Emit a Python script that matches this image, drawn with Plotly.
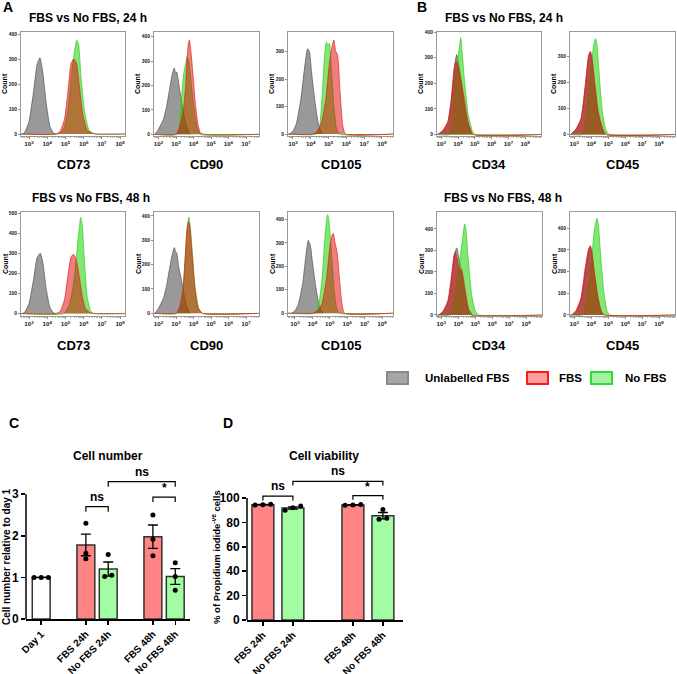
import plotly.graph_objects as go

W, H = 677, 674
FONT = "Liberation Sans, Arial, Helvetica, sans-serif"

# ---------------- Flow cytometry histograms: points are (log10 fluorescence, count) ----------------
CD73_24H_UNLAB = [(2.6,0),(2.75,5),(3.0,50),(3.25,170),(3.45,280),(3.6,305),(3.75,250),(3.95,120),(4.15,30),(4.35,3),(4.5,0)]
CD73_24H_FBS = [(4.45,0),(4.7,10),(4.95,60),(5.15,180),(5.3,280),(5.45,300),(5.6,285),(5.75,200),(5.95,80),(6.2,15),(6.5,2),(6.8,0)]
CD73_24H_NOFBS = [(4.6,0),(4.9,20),(5.15,100),(5.35,250),(5.5,330),(5.62,375),(5.72,360),(5.85,230),(6.05,90),(6.3,15),(6.6,0)]

CD90_24H_UNLAB = [(1.8,0),(1.95,15),(2.1,35),(2.27,60),(2.45,110),(2.62,180),(2.78,245),(2.9,272),(2.97,250),(3.04,255),(3.15,210),(3.3,140),(3.45,80),(3.6,35),(3.8,0)]
CD90_24H_FBS = [(3.0,0),(3.2,30),(3.42,100),(3.55,200),(3.62,300),(3.7,370),(3.76,386),(3.82,360),(3.95,260),(4.1,130),(4.25,40),(4.4,5),(4.6,0)]
CD90_24H_NOFBS = [(3.05,0),(3.2,60),(3.35,180),(3.44,250),(3.55,290),(3.63,318),(3.72,300),(3.85,220),(4.0,120),(4.2,30),(4.4,0)]

CD105_24H_UNLAB = [(2.8,0),(3.0,10),(3.2,40),(3.45,130),(3.65,240),(3.82,310),(3.92,300),(4.05,220),(4.25,110),(4.45,30),(4.65,0)]
CD105_24H_FBS = [(4.1,0),(4.35,10),(4.6,40),(4.85,130),(5.05,260),(5.2,320),(5.3,342),(5.4,300),(5.5,290),(5.65,150),(5.8,30),(5.95,0)]
CD105_24H_NOFBS = [(4.3,0),(4.5,30),(4.65,150),(4.78,290),(4.88,335),(4.95,320),(5.05,330),(5.15,240),(5.3,100),(5.45,20),(5.6,0)]

CD34_24H_UNLAB = [(2.8,0),(3.1,15),(3.4,50),(3.6,130),(3.8,270),(3.92,312),(4.0,290),(4.15,230),(4.35,120),(4.6,35),(4.85,0)]
CD34_24H_FBS = [(2.8,0),(3.1,15),(3.4,50),(3.6,140),(3.78,260),(3.9,286),(4.0,270),(4.15,220),(4.35,150),(4.6,50),(4.9,0)]
CD34_24H_NOFBS = [(3.5,0),(3.7,100),(3.85,230),(4.0,300),(4.1,350),(4.16,378),(4.25,320),(4.4,200),(4.6,80),(4.85,15),(5.0,0)]

CD45_24H_UNLAB = [(2.8,0),(3.1,20),(3.4,60),(3.65,180),(3.85,300),(3.95,318),(4.05,290),(4.2,200),(4.4,90),(4.6,25),(4.85,0)]
CD45_24H_FBS = [(2.8,0),(3.1,20),(3.4,60),(3.65,190),(3.85,305),(3.95,319),(4.05,290),(4.2,200),(4.4,90),(4.6,40),(4.85,0)]
CD45_24H_NOFBS = [(3.5,0),(3.7,80),(3.9,200),(4.05,290),(4.15,345),(4.25,368),(4.32,355),(4.45,250),(4.65,90),(4.85,20),(5.05,0)]

CD73_48H_UNLAB = [(2.6,0),(2.75,5),(3.0,50),(3.25,170),(3.45,280),(3.62,300),(3.75,260),(3.95,120),(4.15,30),(4.35,3),(4.5,0)]
CD73_48H_FBS = [(4.45,0),(4.7,10),(4.95,70),(5.15,200),(5.3,280),(5.43,295),(5.55,280),(5.7,220),(5.9,100),(6.1,25),(6.4,2),(6.7,0)]
CD73_48H_NOFBS = [(4.9,0),(5.2,40),(5.45,150),(5.62,300),(5.75,420),(5.84,480),(5.92,440),(6.05,250),(6.2,80),(6.4,10),(6.6,0)]

CD90_48H_UNLAB = [(1.8,0),(1.95,15),(2.1,35),(2.27,60),(2.45,110),(2.62,180),(2.78,240),(2.9,270),(2.97,255),(3.05,245),(3.15,190),(3.3,140),(3.45,80),(3.6,30),(3.8,0)]
CD90_48H_FBS = [(3.0,0),(3.2,25),(3.4,100),(3.52,230),(3.62,340),(3.7,377),(3.78,360),(3.9,260),(4.05,120),(4.25,25),(4.5,0)]
CD90_48H_NOFBS = [(3.05,0),(3.25,30),(3.42,120),(3.55,250),(3.65,360),(3.74,395),(3.82,350),(3.95,230),(4.1,100),(4.3,20),(4.5,0)]

CD105_48H_UNLAB = [(2.8,0),(3.0,10),(3.2,40),(3.45,130),(3.62,240),(3.76,310),(3.88,290),(4.0,220),(4.2,110),(4.4,30),(4.6,0)]
CD105_48H_FBS = [(4.0,0),(4.3,10),(4.55,40),(4.8,140),(5.0,280),(5.12,330),(5.2,340),(5.3,300),(5.42,260),(5.55,150),(5.7,40),(5.85,0)]
CD105_48H_NOFBS = [(4.15,0),(4.35,30),(4.55,140),(4.7,300),(4.82,400),(4.88,420),(4.96,390),(5.1,250),(5.25,100),(5.4,20),(5.55,0)]

CD34_48H_UNLAB = [(2.85,0),(3.1,15),(3.4,60),(3.6,160),(3.8,290),(3.92,312),(4.0,280),(4.15,220),(4.35,120),(4.6,30),(4.85,0)]
CD34_48H_FBS = [(2.85,0),(3.1,15),(3.4,70),(3.6,180),(3.75,275),(3.82,290),(3.92,265),(4.05,220),(4.2,210),(4.35,150),(4.55,50),(4.75,0)]
CD34_48H_NOFBS = [(3.5,0),(3.75,80),(3.95,180),(4.1,260),(4.25,350),(4.38,423),(4.45,400),(4.6,250),(4.8,90),(5.0,20),(5.2,0)]

CD45_48H_UNLAB = [(2.85,0),(3.1,15),(3.4,70),(3.65,200),(3.85,300),(3.95,315),(4.05,280),(4.2,180),(4.4,80),(4.6,15),(4.75,0)]
CD45_48H_FBS = [(2.85,0),(3.1,20),(3.4,80),(3.65,220),(3.85,305),(3.95,320),(4.05,285),(4.2,190),(4.4,80),(4.6,15),(4.75,0)]
CD45_48H_NOFBS = [(3.5,0),(3.7,60),(3.9,170),(4.05,280),(4.2,400),(4.34,446),(4.42,420),(4.55,280),(4.75,100),(4.95,15),(5.1,0)]

COUNT_TICKS_300 = [0, 100, 200, 300]
COUNT_TICKS_400 = [0, 100, 200, 300, 400]
COUNT_TICKS_500 = [0, 100, 200, 300, 400, 500]

SERIES_NAMES = ["Unlabelled FBS", "FBS", "No FBS"]
PANEL_TITLE_24 = "FBS vs No FBS, 24 h"
PANEL_TITLE_48 = "FBS vs No FBS, 48 h"

# ---------------- Cell number (panel C) ----------------
CN_GROUPS = [["Day 1"], ["FBS 24h", "No FBS 24h"], ["FBS 48h", "No FBS 48h"]]
CN_MEAN = [1.00, 1.78, 1.20, 1.98, 1.02]
CN_SEM = [0.0, 0.26, 0.17, 0.28, 0.19]
CN_POINTS = [[1.0, 1.0, 1.0], [2.30, 1.58, 1.45], [1.55, 1.02, 1.05], [2.50, 1.92, 1.52], [1.35, 1.02, 0.69]]
CN_YTICKS = [0, 1, 2, 3]
CN_SIG = [("FBS 24h", "No FBS 24h", 2.70, "ns"), ("FBS 48h", "No FBS 48h", 2.93, "*"),
          ("No FBS 24h", "No FBS 48h", 3.30, "ns")]

# ---------------- Cell viability (panel D) ----------------
CV_GROUPS = [["FBS 24h", "No FBS 24h"], ["FBS 48h", "No FBS 48h"]]
CV_MEAN = [94.5, 91.8, 94.3, 85.5]
CV_SEM = [0.2, 1.0, 0.2, 2.6]
CV_POINTS = [[94.2, 94.8, 94.5], [93.5, 90.0, 92.0], [94.0, 94.6, 94.2], [90.5, 82.5, 83.5]]
CV_YTICKS = [0, 20, 40, 60, 80, 100]
CV_SIG = [("FBS 24h", "No FBS 24h", 101.5, "ns"), ("FBS 48h", "No FBS 48h", 102.0, "*"),
          ("No FBS 24h", "No FBS 48h", 113.7, "ns")]

# ======================================================================
FILL = ["rgba(105,105,105,0.68)", "rgba(222,0,0,0.5)", "rgba(30,210,0,0.55)"]
LINE = ["rgb(80,80,80)", "rgb(235,30,30)", "rgb(40,205,30)"]
LEG_FILL = ["#a6a6a6", "#ff9c9c", "#a6f0a6"]
LEG_LINE = ["#8a8a8a", "#ff1a1a", "#2edc2e"]
BAR_COL = {"Day": "white", "FBS": "#ff8484", "No": "#a2fca2"}


def xdom(a, b):
    return [a / W, b / W]


def ydom(top, bottom):
    return [1 - bottom / H, 1 - top / H]


def bold(size, color="black"):
    return dict(family=FONT, size=size, color=color, weight="bold")


def label(text, x, y, size, angle=0, xanchor="center"):
    return dict(x=x / W, y=1 - y / H, xref="paper", yref="paper", text=text, textangle=angle,
                showarrow=False, xanchor=xanchor, yanchor="middle", font=bold(size))


fig = go.Figure()
annotations = []
shapes = []

# layout of histogram panels (pixel boxes and axis ranges)
HIST = [
    ("CD73", (CD73_24H_UNLAB, CD73_24H_FBS, CD73_24H_NOFBS), (21, 125, 32, 136), (2.56, 8.27), (-8, 408), COUNT_TICKS_400),
    ("CD90", (CD90_24H_UNLAB, CD90_24H_FBS, CD90_24H_NOFBS), (154, 259, 32, 136), (1.74, 7.74), (-7, 419), COUNT_TICKS_400),
    ("CD105", (CD105_24H_UNLAB, CD105_24H_FBS, CD105_24H_NOFBS), (288, 393, 32, 136), (2.72, 8.62), (-7, 371), COUNT_TICKS_300),
    ("CD34", (CD34_24H_UNLAB, CD34_24H_FBS, CD34_24H_NOFBS), (437, 541, 32, 136), (2.75, 8.94), (-6, 400), COUNT_TICKS_400),
    ("CD45", (CD45_24H_UNLAB, CD45_24H_FBS, CD45_24H_NOFBS), (570, 675, 32, 136), (2.75, 8.94), (-6, 394), COUNT_TICKS_300),
    ("CD73", (CD73_48H_UNLAB, CD73_48H_FBS, CD73_48H_NOFBS), (21, 125, 212, 316), (2.56, 8.27), (-12, 506), COUNT_TICKS_500),
    ("CD90", (CD90_48H_UNLAB, CD90_48H_FBS, CD90_48H_NOFBS), (154, 259, 212, 316), (1.74, 7.74), (-11, 416), COUNT_TICKS_400),
    ("CD105", (CD105_48H_UNLAB, CD105_48H_FBS, CD105_48H_NOFBS), (288, 393, 212, 316), (2.6, 8.63), (-12, 431), COUNT_TICKS_400),
    ("CD34", (CD34_48H_UNLAB, CD34_48H_FBS, CD34_48H_NOFBS), (437, 542, 212, 316), (2.75, 8.94), (-5, 479), COUNT_TICKS_400),
    ("CD45", (CD45_48H_UNLAB, CD45_48H_FBS, CD45_48H_NOFBS), (570, 675, 212, 316), (2.75, 8.94), (-5, 475), COUNT_TICKS_400),
]

for i, (marker, curves, box, xr, yr, yt) in enumerate(HIST):
    n = i + 1
    xa, ya = f"x{n}", f"y{n}"
    l, r, t, b = box
    for k in (0, 2, 1):  # unlabelled, no FBS, FBS on top
        pts = list(curves[k])
        if k > 0:
            pts = [(xr[0], 0)] + pts + [(xr[1], 0)]
        fig.add_trace(go.Scatter(
            x=[10 ** p[0] for p in pts], y=[p[1] for p in pts], xaxis=xa, yaxis=ya,
            mode="lines", line=dict(color=LINE[k], width=0.7, shape="spline", smoothing=0.5),
            fill="tozeroy", fillcolor=FILL[k], showlegend=False, hoverinfo="skip"))
    fig.layout[f"xaxis{n}"] = dict(
        domain=xdom(l, r), anchor=ya, type="log", range=list(xr), dtick=1, automargin=False,
        exponentformat="power", showexponent="all", tickfont=dict(family=FONT, size=5, color="#222", weight="bold"),
        ticks="outside", ticklen=2, tickwidth=0.6, tickcolor="#444",
        minor=dict(ticks="outside", ticklen=1, tickwidth=0.5, tickcolor="#666", dtick="D1"),
        showline=True, mirror=True, linecolor="#999", linewidth=1, showgrid=False, zeroline=False)
    fig.layout[f"yaxis{n}"] = dict(
        domain=ydom(t, b), anchor=xa, range=list(yr), tickvals=yt, automargin=False,
        tickfont=dict(family=FONT, size=5, color="#222", weight="bold"),
        ticks="outside", ticklen=2, tickwidth=0.6, tickcolor="#444",
        showline=True, mirror=True, linecolor="#999", linewidth=1, showgrid=False, zeroline=False)
    annotations.append(label("Count", l - 16, (t + b) / 2, 7, angle=-90))
    annotations.append(label(marker, (l + r) / 2, b + 29, 13))

for txt, x, y in [(PANEL_TITLE_24, 88, 18), (PANEL_TITLE_24, 504, 18),
                  (PANEL_TITLE_48, 91, 198), (PANEL_TITLE_48, 503, 198)]:
    annotations.append(label(txt, x, y, 12))

for txt, x, y in [("A", 8, 7), ("B", 422, 7), ("C", 14, 423), ("D", 228, 423)]:
    annotations.append(label(txt, x, y, 14))

# legend
for k, (bx, tx) in enumerate([(387, 423), (527, 557), (591, 623)]):
    shapes.append(dict(type="rect", xref="paper", yref="paper", x0=bx / W, x1=(bx + 21) / W,
                       y0=1 - 384 / H, y1=1 - 372 / H, fillcolor=LEG_FILL[k],
                       line=dict(color=LEG_LINE[k], width=2)))
    annotations.append(label(SERIES_NAMES[k], tx, 378, 11.5, xanchor="left"))


# ---------------- bar panels ----------------
def positions(groups):
    pos, labels, p = [], [], 0
    for g in groups:
        for lab in g:
            labels.append(lab)
            pos.append(p)
            p += 1
        p += 1
    return pos, labels


def swarm(values, thr, spacing):
    order = sorted(range(len(values)), key=lambda j: values[j])
    clusters, cur = [], [order[0]]
    for j in order[1:]:
        if abs(values[j] - values[cur[-1]]) < thr:
            cur.append(j)
        else:
            clusters.append(cur)
            cur = [j]
    clusters.append(cur)
    off = [0.0] * len(values)
    for c in clusters:
        for m, j in enumerate(c):
            off[j] = (m - (len(c) - 1) / 2) * spacing
    return off


def bar_panel(n, groups, means, sems, points, sig, yticks, xr, yr, box, thr, spacing, width, ytop, tick_down):
    xa, ya = f"x{n}", f"y{n}"
    pos, labels = positions(groups)
    cols = [BAR_COL[lab.split()[0]] for lab in labels]
    fig.add_trace(go.Bar(x=pos, y=means, width=width, xaxis=xa, yaxis=ya, showlegend=False,
                         marker=dict(color=cols, line=dict(color="#333", width=1.5)),
                         error_y=dict(type="data", array=sems, color="black", thickness=1.3, width=5),
                         hoverinfo="skip"))
    dx, dy = [], []
    for p, vals in zip(pos, points):
        for o, v in zip(swarm(vals, thr, spacing), vals):
            dx.append(p + o)
            dy.append(v)
    fig.add_trace(go.Scatter(x=dx, y=dy, xaxis=xa, yaxis=ya, mode="markers", showlegend=False,
                             marker=dict(color="black", size=5), hoverinfo="skip"))
    for a, b, yv, lab in sig:
        x1, x2 = pos[labels.index(a)], pos[labels.index(b)]
        fig.add_trace(go.Scatter(x=[x1, x1, x2, x2], y=[yv - tick_down, yv, yv, yv - tick_down],
                                 xaxis=xa, yaxis=ya, mode="lines", line=dict(color="black", width=1.2),
                                 showlegend=False, hoverinfo="skip"))
        annotations.append(dict(x=(x1 + x2) / 2, y=yv, xref=xa, yref=ya, text=lab, showarrow=False,
                                xanchor="center", yanchor="bottom", yshift=0 if lab == "*" else 1,
                                font=bold(12)))
    l, r, t, b = box
    fig.layout[f"xaxis{n}"] = dict(domain=xdom(l, r), anchor=ya, range=list(xr), tickvals=pos, ticktext=labels,
                                   tickangle=-45, tickfont=bold(10), ticks="outside", ticklen=4, tickwidth=1.5,
                                   tickcolor="black", showline=True, linecolor="black", linewidth=1.5,
                                   showgrid=False, zeroline=False, automargin=False)
    fig.layout[f"yaxis{n}"] = dict(domain=ydom(t, b), anchor=xa, range=list(yr), tickvals=yticks,
                                   tickfont=bold(12), ticks="outside", ticklen=4, tickwidth=1.5,
                                   tickcolor="black", showline=False, showgrid=False, zeroline=False,
                                   automargin=False)
    shapes.append(dict(type="line", xref=f"{xa} domain", yref=ya, x0=0, x1=0, y0=0, y1=ytop,
                       line=dict(color="black", width=1.5)))


bar_panel(11, CN_GROUPS, CN_MEAN, CN_SEM, CN_POINTS, CN_SIG, CN_YTICKS,
          (-0.68, 6.66), (0, 3.75), (26, 190, 463, 619), 0.12, 0.32, 0.8, 3, 0.12)
bar_panel(12, CV_GROUPS, CV_MEAN, CV_SEM, CV_POINTS, CV_SIG, CV_YTICKS,
          (-0.53, 4.67), (0, 125), (247, 403, 467.5, 620), 3.0, 0.26, 0.73, 100, 3.5)

annotations += [
    label("Cell number", 108, 456, 12),
    label("Cell viability", 324, 456, 12),
    label("Cell number relative to day 1", 6, 557, 10, angle=-90),
    label("% of Propidium iodide<sup>-ve</sup> cells", 216, 557, 9.5, angle=-90),
]

fig.update_layout(width=W, height=H, margin=dict(l=0, r=0, t=0, b=0, autoexpand=False), paper_bgcolor="white",
                  plot_bgcolor="white", annotations=annotations, shapes=shapes, bargap=0,
                  font=dict(family=FONT, color="black"))
fig.write_html("out.html", config={"displayModeBar": False, "staticPlot": True},
               post_script="document.body.style.margin='0';document.body.style.padding='0';")
